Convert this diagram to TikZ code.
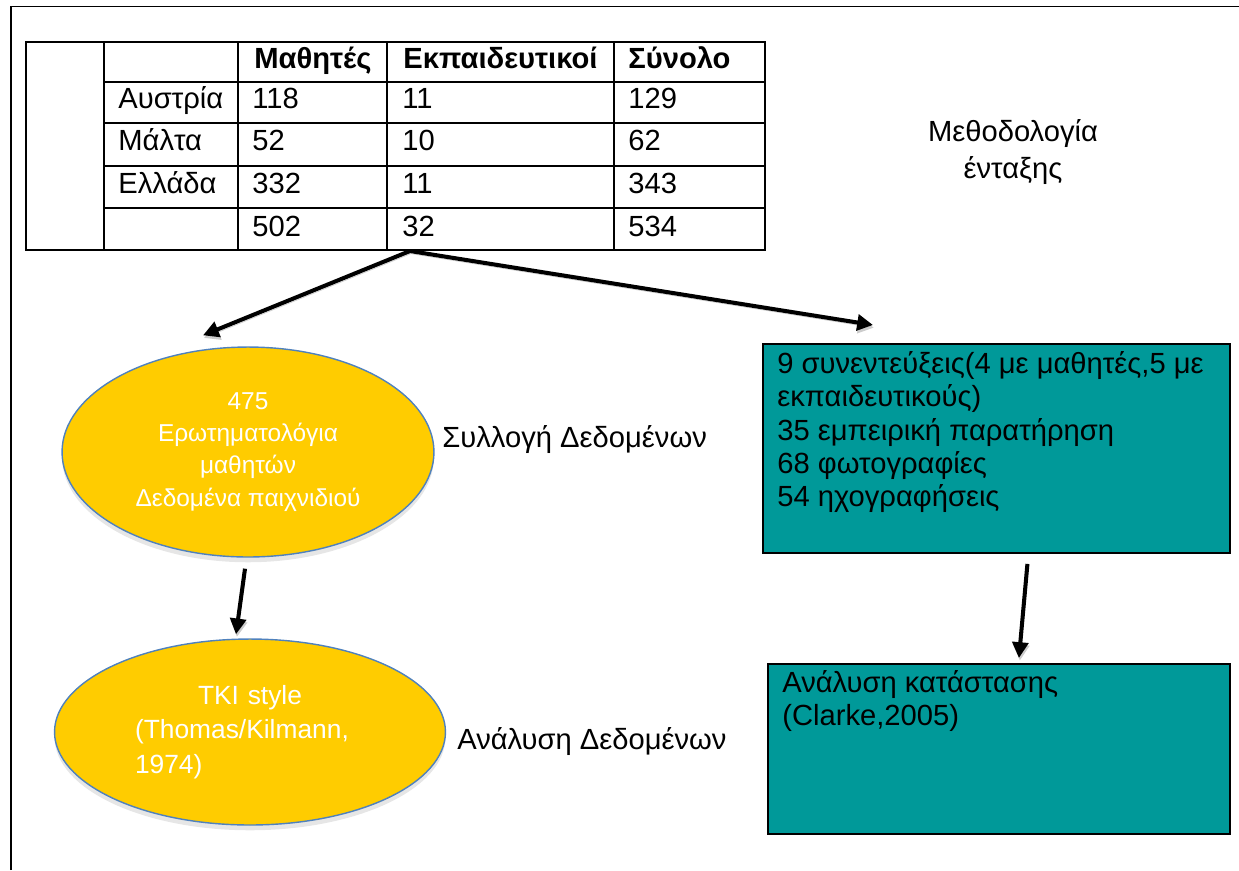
\documentclass[tikz,border=0pt]{standalone}
\usepackage{fontspec}
\setmainfont{Liberation Sans}
\usetikzlibrary{positioning,shapes,arrows.meta,calc,shadows}

\definecolor{ovalfill}{HTML}{FFCC00}
\definecolor{ovalline}{HTML}{4F81BD}
\definecolor{cardfill}{HTML}{009999}

\begin{document}
\begin{tikzpicture}[x=0.02cm, y=-0.02cm,
                every node/.style={font=\fontsize{16.6}{19}\selectfont},
                cell/.style={anchor=base west, inner sep=0pt},
                head/.style={cell, font=\fontsize{16.6}{19}\selectfont\bfseries},
                oval/.style={ellipse, draw=ovalline, line width=0.8pt, fill=ovalfill, text=white, align=center, inner sep=0pt,
                    drop shadow={shadow xshift=0pt, shadow yshift=-3pt, opacity=0.2}},
                card/.style={rectangle, draw=black, line width=1.1pt, fill=cardfill, anchor=north west, inner sep=0pt},
                cardtext/.style={anchor=north west, align=left, inner sep=0pt},
                label/.style={anchor=base west, inner sep=0pt},
                arrow/.style={-{Triangle[length=9pt,width=9pt]}, line width=2.3pt,
                    preaction={draw=black!20, transform canvas={xshift=0.5pt,yshift=-1.5pt}}}
            ]
                \useasboundingbox (0,0) rectangle (1239,870);

                % frame
                \draw[line width=1.1pt] (11,870) -- (11,6.5) -- (1239,6.5);

                % table
                \draw[line width=1.1pt] (26,42) rectangle (765,250);
                \foreach \x in {104,238,387,614} \draw[line width=1.1pt] (\x,42) -- (\x,250);
                \foreach \y in {82,123,166,208} \draw[line width=1.1pt] (104,\y) -- (765,\y);

                \node[head] (h1) at (254,68) {Μαθητές};
                \node[head] (h2) at (403,68) {Εκπαιδευτικοί};
                \node[head] (h3) at (628,68) {Σύνολο};

                \node[cell] (r1) at (118,108) {Αυστρία};
                \node[cell] (r2) at (118,150) {Μάλτα};
                \node[cell] (r3) at (118,193) {Ελλάδα};

                \node[cell] (a1) at (252,108) {118};
                \node[cell] (b1) at (402,108) {11};
                \node[cell] (c1) at (628,108) {129};
                \node[cell] (a2) at (252,150) {52};
                \node[cell] (b2) at (402,150) {10};
                \node[cell] (c2) at (628,150) {62};
                \node[cell] (a3) at (252,193) {332};
                \node[cell] (b3) at (402,193) {11};
                \node[cell] (c3) at (628,193) {343};
                \node[cell] (a4) at (252,236) {502};
                \node[cell] (b4) at (402,236) {32};
                \node[cell] (c4) at (628,236) {534};

                \coordinate (tblfoot) at (410,251);

                \node[align=center, font=\fontsize{16.6}{21.5}\selectfont] (method) at (1013,152) {Μεθοδολογία\\ένταξης};

                % quantitative side
                \node[oval, minimum width=7.44cm, minimum height=4.2cm, font=\fontsize{13.9}{18.3}\selectfont] (stu) at (248,452)
                    {475\\Ερωτηματολόγια\\μαθητών\\Δεδομένα παιχνιδιού};
                \node[oval, minimum width=7.82cm, minimum height=3.72cm, align=left, text width=4.6cm,
                    font=\fontsize{15}{19.6}\selectfont] (tki) at (250,732)
                    {\hfill TKI style\hfill\null\\(Thomas/Kilmann,\\1974)};

                \node[label] (collect) at (442,447) {Συλλογή Δεδομένων};
                \node[label] (analyse) at (457,749) {Ανάλυση Δεδομένων};

                % qualitative side
                \node[card, minimum width=9.34cm, minimum height=4.18cm] (int) at (762,343) {};
                \node[cardtext] (inttext) at ($(int.north west)+(15,8)$)
                    {9 συνεντεύξεις(4 με μαθητές,5 με\\εκπαιδευτικούς)\\35 εμπειρική παρατήρηση\\68 φωτογραφίες\\54 ηχογραφήσεις};
                \node[card, minimum width=9.24cm, minimum height=3.4cm] (sit) at (767,663) {};
                \node[cardtext] (sittext) at ($(sit.north west)+(15,7)$)
                    {Ανάλυση κατάστασης\\(Clarke,2005)};

                % arrows
                \draw[arrow] (tblfoot) -- ($(stu.north)+(-45,-11)$);
                \draw[arrow] (tblfoot) -- ($(int.north west)+(111,-18)$);
                \draw[arrow] ($(stu.south)+(-3,11)$) -- ($(tki.north)+(-14,-4)$);
                \draw[arrow] ($(int.south)+(31,10)$) -- ($(sit.north)+(20,-5)$);
            \end{tikzpicture}
\end{document}
